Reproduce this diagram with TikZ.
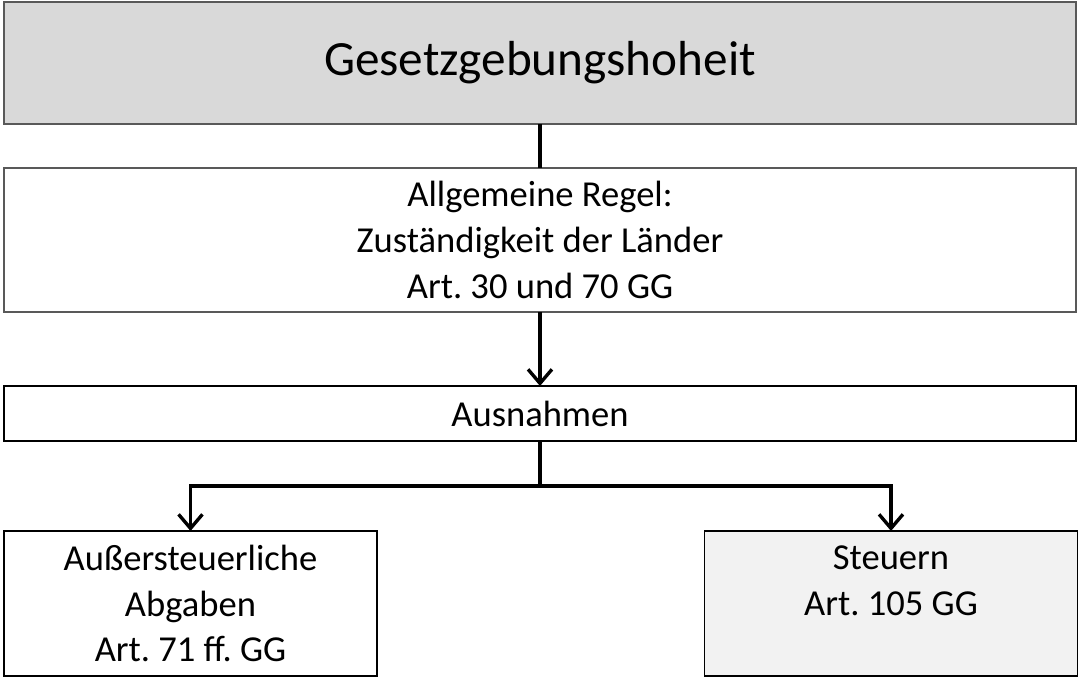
\documentclass[tikz,border=0pt]{standalone}
\usepackage{fontspec}
\setmainfont{Carlito}
\usetikzlibrary{arrows.meta}
\definecolor{headgray}{HTML}{D9D9D9}
\definecolor{lightgray}{HTML}{F2F2F2}
\definecolor{framegray}{HTML}{595959}
\frenchspacing
\begin{document}
\begin{tikzpicture}[
	x=0.025cm, y=-0.025cm,
	>={Straight Barb[length=10pt, width=17pt, line width=2.4pt]},
	top/.style={
		rectangle,
		draw=framegray,
		line width=1.4pt,
		align=center,
		fill=headgray,
		inner sep=0pt,
		outer sep=0pt,
		font=\fontsize{35}{42}\selectfont,
		minimum height=3.05cm,
		minimum width=26.8cm
	},
	rule/.style={
		rectangle,
		draw=framegray,
		line width=1.4pt,
		align=center,
		fill=white,
		inner sep=0pt,
		outer sep=0pt,
		font=\fontsize{26}{32.5}\selectfont,
		minimum height=3.6cm,
		minimum width=26.8cm
	},
	mid/.style={
		rectangle,
		draw=black,
		line width=1pt,
		align=center,
		fill=white,
		inner sep=0pt,
		outer sep=0pt,
		font=\fontsize{26}{32.5}\selectfont,
		minimum height=1.375cm,
		minimum width=26.8cm
	},
	bottom/.style={
		rectangle,
		draw=black,
		line width=1pt,
		align=center,
		fill=white,
		inner sep=0pt,
		outer sep=0pt,
		font=\fontsize{26}{32.5}\selectfont,
		minimum height=3.625cm,
		minimum width=9.325cm
	},
]

\useasboundingbox (0, 0) rectangle (1080, 680);

\node[top] (top) at (540, 63) {Gesetzgebungshoheit};

\node[rule] (rule) at (540, 240) {Allgemeine Regel:\\Zuständigkeit der Länder\\Art. 30 und 70 GG};

\node[mid] (exc) at (540, 413.5) {Ausnahmen};

\node[bottom] (bottom_fee) at (190.5, 603.5) {Außersteuerliche\\Abgaben\\Art. 71 ff. GG};
\node[bottom, fill=lightgray] (bottom_tax) at (891, 603.5) {Steuern\\Art. 105 GG\\\mbox{}};

\draw[line width=2.8pt] (top) -- (rule);
\draw[line width=2.8pt,->] (rule) -- (exc);

\draw[line width=2.8pt,->] (exc.south) -- ++(0,45) -| (bottom_fee.north);
\draw[line width=2.8pt,->] (exc.south) -- ++(0,45) -| (bottom_tax.north);

\end{tikzpicture}
\end{document}
